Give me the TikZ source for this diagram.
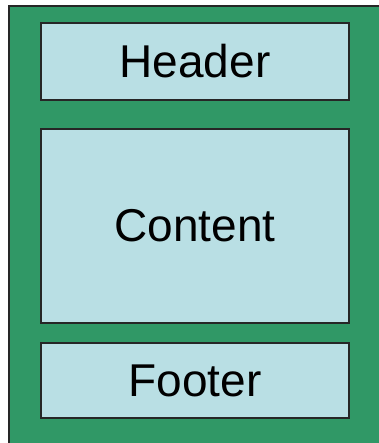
\documentclass[tikz,border=0pt]{standalone}
\usepackage{fontspec}
\setmainfont{Liberation Sans}
\definecolor{bggreen}{RGB}{48,152,102}
\definecolor{boxblue}{RGB}{185,223,228}
\begin{document}
\begin{tikzpicture}[x=1pt,y=-1pt,
  panel/.style={draw=black!85, line width=2pt, fill=boxblue, rectangle, inner sep=0pt, anchor=north west,
    font=\fontsize{46}{55}\selectfont},
]
\useasboundingbox (0,0) rectangle (378,443);
\fill[white] (0,0) rectangle (378,443);
\draw[fill=bggreen, draw=black!85, line width=2pt] (9,6) rectangle (390,455);
\node[panel, minimum width=308pt, minimum height=77pt] (header) at (40,22) {Header};
\node[panel, minimum width=308pt, minimum height=193pt] (content) at (40,128.5) {Content};
\node[panel, minimum width=308pt, minimum height=75pt] (footer) at (40,342) {Footer};
\end{tikzpicture}
\end{document}
